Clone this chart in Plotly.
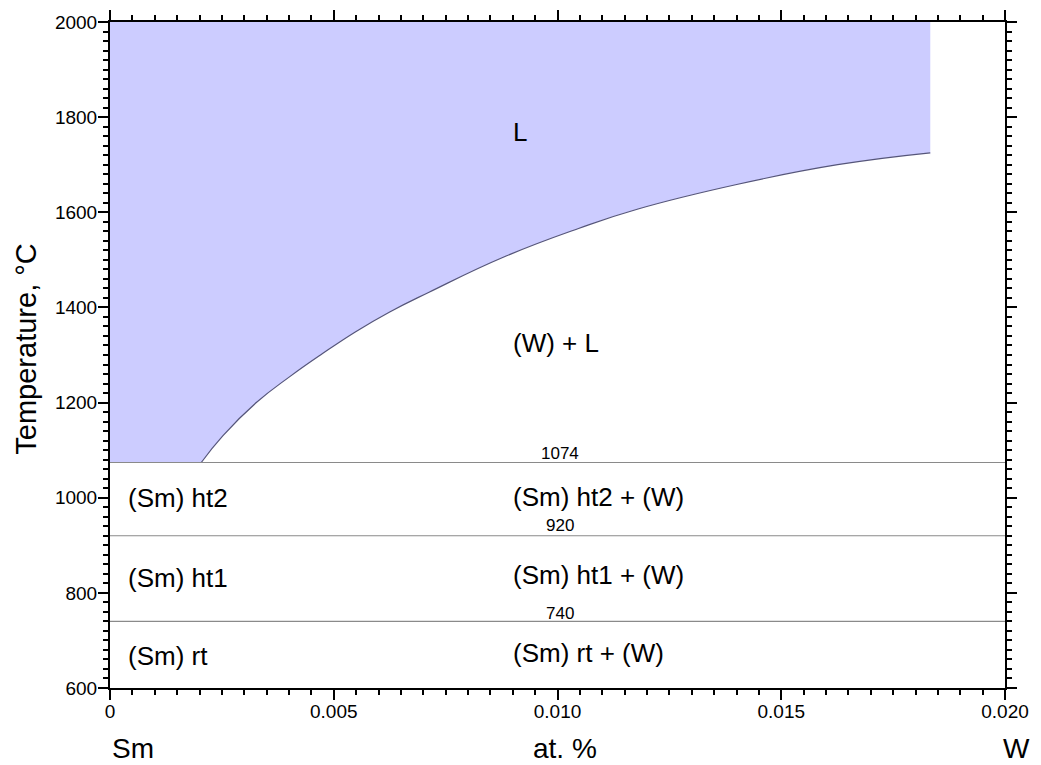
import plotly.graph_objects as go

# Liquidus of (W) in the Sm-rich melt: W content (at. fraction) and temperature (°C)
liq_x = [0.00204, 0.00252, 0.00327, 0.00401, 0.00475, 0.00549, 0.00624,
         0.00713, 0.00880, 0.01047, 0.01180, 0.01403, 0.01626, 0.01833]
liq_T = [1074, 1130, 1200, 1254, 1303, 1349, 1390,
         1432, 1506, 1566, 1607, 1659, 1700, 1725]

# Isotherms: melting of Sm and the two allotropic transformations (°C)
iso_T = [1074, 920, 740]
iso_labels = ["1074", "920", "740"]

# Axes
x_range = [0, 0.02]
T_range = [600, 2000]
x_tickvals = [0, 0.005, 0.010, 0.015, 0.020]
x_ticktext = ["0", "0.005", "0.010", "0.015", "0.020"]
y_tickvals = [600, 800, 1000, 1200, 1400, 1600, 1800, 2000]

# Phase-field names
field_names = ["L", "(W) + L", "(Sm) ht2", "(Sm) ht2 + (W)",
               "(Sm) ht1", "(Sm) ht1 + (W)", "(Sm) rt", "(Sm) rt + (W)"]

FONT = "Arial, 'Liberation Sans', sans-serif"
LAVENDER = "rgb(204,204,255)"

fig = go.Figure()

# Baseline along the Sm melting isotherm, used as the lower edge of the (W) + L field
fig.add_trace(go.Scatter(
    x=[liq_x[0], x_range[1]], y=[iso_T[0], iso_T[0]],
    mode="lines", line=dict(width=0), hoverinfo="skip", showlegend=False))

# Liquidus curve; the area beneath it (the (W) + L field) is painted white
fig.add_trace(go.Scatter(
    x=liq_x, y=liq_T, mode="lines",
    line=dict(color="#55557a", width=1.2, shape="spline", smoothing=1.3),
    fill="tonexty", fillcolor="white",
    hoverinfo="skip", showlegend=False))

# Horizontal isotherms
for t in iso_T:
    fig.add_trace(go.Scatter(
        x=x_range, y=[t, t], mode="lines",
        line=dict(color="#8a8a8a", width=1.2),
        hoverinfo="skip", showlegend=False))

# Empty trace that carries the mirrored top / right axes
fig.add_trace(go.Scatter(x=[], y=[], xaxis="x2", yaxis="y2",
                         showlegend=False, hoverinfo="skip"))

# Liquid field: shaded from the melting isotherm up to the top of the diagram
fig.add_shape(type="rect", xref="x", yref="y",
              x0=x_range[0], x1=liq_x[-1], y0=iso_T[0], y1=T_range[1],
              fillcolor=LAVENDER, line=dict(width=0), layer="below")

# Phase-field labels
field_pos = {
    "L": (0.00895, 1768, "left"),
    "(W) + L": (0.00895, 1326, "left"),
    "(Sm) ht2": (0.00036, 1000, "left"),
    "(Sm) ht2 + (W)": (0.00895, 1001, "left"),
    "(Sm) ht1": (0.00036, 831, "left"),
    "(Sm) ht1 + (W)": (0.00895, 837, "left"),
    "(Sm) rt": (0.00036, 668, "left"),
    "(Sm) rt + (W)": (0.00895, 673, "left"),
}
for name in field_names:
    x, y, anchor = field_pos[name]
    fig.add_annotation(x=x, y=y, text=name, showarrow=False,
                       xanchor=anchor, yanchor="middle",
                       font=dict(family=FONT, size=26, color="black"))

# Isotherm temperature labels
iso_label_y = [1094, 942, 756]
for lbl, y in zip(iso_labels, iso_label_y):
    fig.add_annotation(x=0.0100, y=y, text=lbl, showarrow=False,
                       xanchor="center", yanchor="middle", xshift=2,
                       font=dict(family=FONT, size=17, color="black"))

# Axis titles
fig.add_annotation(xref="paper", yref="paper", x=0, y=0.508,
                   text="Temperature, °C", textangle=-90, showarrow=False,
                   xanchor="center", yanchor="middle", xshift=-84,
                   font=dict(family=FONT, size=29, color="black"))
fig.add_annotation(xref="paper", yref="paper", x=0, y=0,
                   text="Sm", showarrow=False, xanchor="left", yanchor="middle",
                   xshift=0, yshift=-60,
                   font=dict(family=FONT, size=28, color="black"))
fig.add_annotation(xref="paper", yref="paper", x=0.5, y=0,
                   text="at. %", showarrow=False, xanchor="center", yanchor="middle",
                   xshift=7, yshift=-60,
                   font=dict(family=FONT, size=28, color="black"))
fig.add_annotation(xref="paper", yref="paper", x=1, y=0,
                   text="W", showarrow=False, xanchor="center", yanchor="middle",
                   xshift=11, yshift=-60,
                   font=dict(family=FONT, size=28, color="black"))

axis_common = dict(showgrid=False, zeroline=False, showline=True,
                   linecolor="black", linewidth=2,
                   ticks="outside", ticklen=10, tickwidth=2, tickcolor="black")

fig.update_layout(
    width=1041, height=765,
    margin=dict(l=110, r=33, t=17, b=77),
    plot_bgcolor="white", paper_bgcolor="white",
    font=dict(family=FONT, color="black"),
    xaxis=dict(range=x_range, tickmode="array", tickvals=x_tickvals,
               ticktext=x_ticktext, tickfont=dict(size=19),
               ticklabelstandoff=-5,
               minor=dict(dtick=0.0005, tick0=0, ticks="outside", ticklen=5,
                          tickwidth=1.5, tickcolor="black"),
               **axis_common),
    yaxis=dict(range=T_range, tickmode="array", tickvals=y_tickvals,
               tickfont=dict(size=19), ticklabelstandoff=-3,
               minor=dict(dtick=20, tick0=0, ticks="outside", ticklen=5,
                          tickwidth=1.5, tickcolor="black"),
               **axis_common),
    xaxis2=dict(range=x_range, overlaying="x", side="top",
                tickmode="array", tickvals=x_tickvals, showticklabels=False,
                minor=dict(dtick=0.0005, tick0=0, ticks="outside", ticklen=5,
                           tickwidth=1.5, tickcolor="black"),
                **axis_common),
    yaxis2=dict(range=T_range, overlaying="y", side="right",
                tickmode="array", tickvals=y_tickvals, showticklabels=False,
                minor=dict(dtick=20, tick0=0, ticks="outside", ticklen=5,
                           tickwidth=1.5, tickcolor="black"),
                **axis_common),
)

fig.write_html("out.html")
